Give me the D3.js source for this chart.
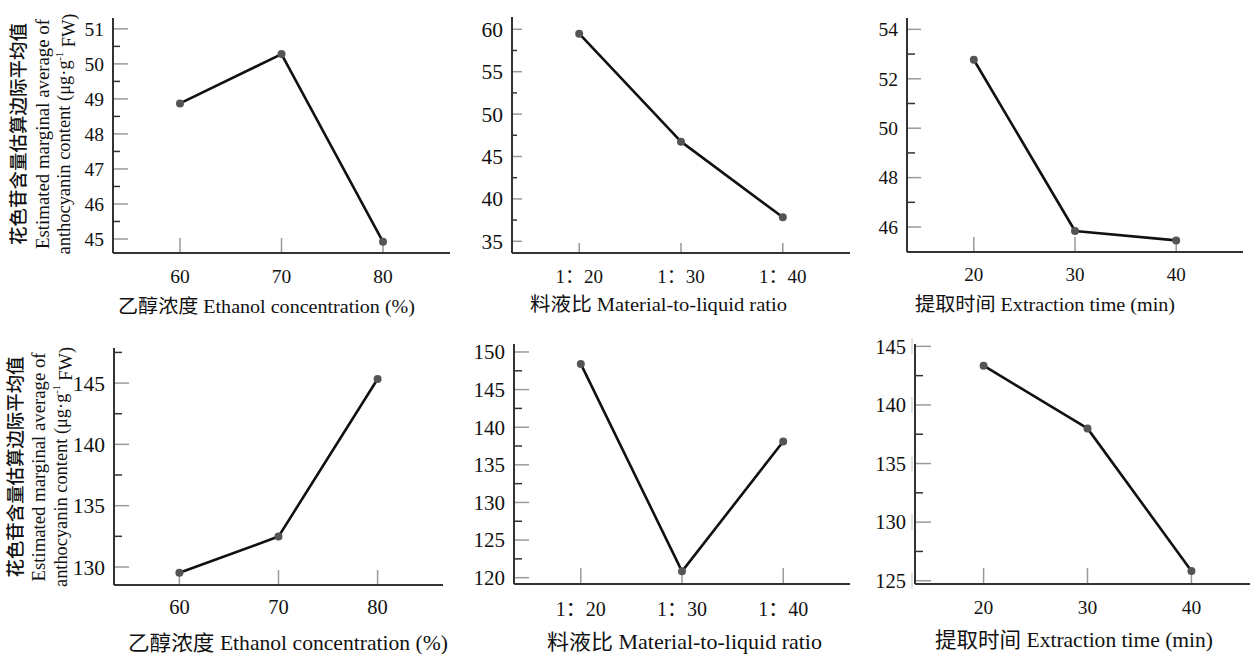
<!DOCTYPE html>
<html>
<head>
<meta charset="utf-8">
<script src="https://cdn.jsdelivr.net/npm/d3@7"></script>
<style>
  html, body { margin: 0; padding: 0; background: #fff; }
  svg { display: block; }
  text { font-family: "Liberation Serif", "Noto Sans CJK SC", serif; fill: #111; }
</style>
</head>
<body>
<svg id="chart" width="1250" height="654"></svg>
<script>
// Factor levels
const ethanolLevels = ["60", "70", "80"];
const ratioLevels = ["1：20", "1：30", "1：40"];
const timeLevels = ["20", "30", "40"];

// Estimated marginal means, first response (upper row)
const ethanolUpper = [48.87, 50.28, 44.92];
const ratioUpper = [59.48, 46.75, 37.83];
const timeUpper = [52.77, 45.84, 45.46];

// Estimated marginal means, second response (lower row)
const ethanolLower = [129.53, 132.48, 145.33];
const ratioLower = [148.41, 120.84, 138.10];
const timeLower = [143.35, 138.00, 125.83];

// Y tick values per panel
const ticksEthUp = [45, 46, 47, 48, 49, 50, 51];
const ticksRatUp = [35, 40, 45, 50, 55, 60];
const ticksTimUp = [46, 48, 50, 52, 54];
const ticksEthLo = [130, 135, 140, 145];
const ticksRatLo = [120, 125, 130, 135, 140, 145, 150];
const ticksTimLo = [125, 130, 135, 140, 145];

// Axis titles
const xTitleEthanol = "乙醇浓度 Ethanol concentration (%)";
const xTitleRatio = "料液比 Material-to-liquid ratio";
const xTitleTime = "提取时间 Extraction time (min)";
const yTitleZh = "花色苷含量估算边际平均值";
const yTitleEn1 = "Estimated marginal average of";
const yTitleEn2a = "anthocyanin content (μg·g";
const yTitleEn2sup = "-1";
const yTitleEn2b = " FW)";

const svg = d3.select("#chart");

const panels = [
  { levels: ethanolLevels, values: ethanolUpper, ticks: ticksEthUp, domain: [44.6, 51.31],
    x0: 113, x1: 450, yTop: 18, yBot: 253, tickLen: 15, minorLen: 7, xTickLen: 15,
    fs: 19.5, xfs: 19.5, xLabDy: 23, title: xTitleEthanol, tx: 118, tw: 297, tyDy: 53, tfs: 19.5 },
  { levels: ratioLevels, values: ratioUpper, ticks: ticksRatUp, domain: [33.62, 61.45],
    x0: 512, x1: 850, yTop: 17, yBot: 253, tickLen: 10, minorLen: 5, xTickLen: 10,
    fs: 21.5, xfs: 19, xLabDy: 23, title: xTitleRatio, tx: 530, tw: 257, tyDy: 51, tfs: 19.5 },
  { levels: timeLevels, values: timeUpper, ticks: ticksTimUp, domain: [44.99, 54.46],
    x0: 907, x1: 1243, yTop: 18, yBot: 252, tickLen: 14, minorLen: 8, xTickLen: 15,
    fs: 19.5, xfs: 19, xLabDy: 22, title: xTitleTime, tx: 915, tw: 260, tyDy: 52, tfs: 19.5 },
  { levels: ethanolLevels, values: ethanolLower, ticks: ticksEthLo, domain: [128.53, 147.86],
    x0: 114, x1: 443, yTop: 348, yBot: 585, tickLen: 15, minorLen: 8, xTickLen: 15,
    fs: 21.5, xfs: 20.5, xLabDy: 22, title: xTitleEthanol, tx: 128, tw: 320, tyDy: 58, tfs: 21 },
  { levels: ratioLevels, values: ratioLower, ticks: ticksRatLo, domain: [119.16, 151.06],
    x0: 514, x1: 850, yTop: 344, yBot: 584, tickLen: 15, minorLen: 8, xTickLen: 16,
    fs: 21, xfs: 20, xLabDy: 25, title: xTitleRatio, tx: 547, tw: 275, tyDy: 58, tfs: 21 },
  { levels: timeLevels, values: timeLower, ticks: ticksTimLo, domain: [124.72, 145.2],
    x0: 915, x1: 1260, yTop: 344, yBot: 584, tickLen: 16, minorLen: 8, xTickLen: 16,
    fs: 20.5, xfs: 19.5, xLabDy: 23, title: xTitleTime, tx: 935, tw: 278, tyDy: 56, tfs: 21, sideMarks: true }
];

panels.forEach(p => {
  const g = svg.append("g");
  const x = d3.scalePoint().domain(p.levels).range([p.x0, p.x1]).padding(0.66);
  const y = d3.scaleLinear().domain(p.domain).range([p.yBot, p.yTop]);
  const step = p.ticks[1] - p.ticks[0];
  const minors = [];
  for (let v = p.ticks[0] - step / 2; v <= p.domain[1]; v += step) {
    if (v > p.domain[0]) minors.push(v);
  }

  // Major y ticks: light grey, pointing into the plot
  g.selectAll(".ymaj").data(p.ticks).join("line")
    .attr("x1", p.x0).attr("x2", p.x0 + p.tickLen)
    .attr("y1", d => y(d)).attr("y2", d => y(d))
    .attr("stroke", "#9a9a9a").attr("stroke-width", 1.5);

  // Minor y ticks: dark, shorter
  g.selectAll(".ymin").data(minors).join("line")
    .attr("x1", p.x0).attr("x2", p.x0 + p.minorLen)
    .attr("y1", d => y(d)).attr("y2", d => y(d))
    .attr("stroke", "#333").attr("stroke-width", 1.5);

  // Y tick labels
  g.selectAll(".ylab").data(p.ticks).join("text")
    .attr("x", p.x0 - 9).attr("y", d => y(d)).attr("dy", "0.35em")
    .attr("text-anchor", "end").style("font-size", p.fs + "px")
    .text(d => d);

  if (p.sideMarks) {
    g.selectAll(".side").data(p.ticks).join("line")
      .attr("x1", p.x0 - 3).attr("x2", p.x0 - 3)
      .attr("y1", d => y(d) - 8).attr("y2", d => y(d) + 8)
      .attr("stroke", "#c8c8c8").attr("stroke-width", 1);
  }

  // X ticks: grey, rising from the axis
  g.selectAll(".xt").data(p.levels).join("line")
    .attr("x1", d => x(d)).attr("x2", d => x(d))
    .attr("y1", p.yBot).attr("y2", p.yBot - p.xTickLen)
    .attr("stroke", "#9a9a9a").attr("stroke-width", 1.5);

  g.selectAll(".xlab").data(p.levels).join("text")
    .attr("x", d => x(d)).attr("y", p.yBot + p.xLabDy).attr("dy", "0.35em")
    .attr("text-anchor", "middle").style("font-size", p.xfs + "px")
    .text(d => d);

  // Axis lines
  g.append("line").attr("x1", p.x0).attr("x2", p.x0).attr("y1", p.yTop).attr("y2", p.yBot)
    .attr("stroke", "#333").attr("stroke-width", 2);
  g.append("line").attr("x1", p.x0).attr("x2", p.x1).attr("y1", p.yBot).attr("y2", p.yBot)
    .attr("stroke", "#333").attr("stroke-width", 2);

  // Mean line and markers
  const pts = p.levels.map((c, i) => [x(c), y(p.values[i])]);
  g.append("path").attr("d", d3.line()(pts))
    .attr("fill", "none").attr("stroke", "#111").attr("stroke-width", 2.6)
    .attr("stroke-linejoin", "round");
  g.selectAll(".pt").data(pts).join("circle")
    .attr("cx", d => d[0]).attr("cy", d => d[1]).attr("r", 4)
    .attr("fill", "#555");

  // X axis title
  g.append("text").attr("x", p.tx).attr("y", p.yBot + p.tyDy).attr("dy", "0.35em")
    .attr("text-anchor", "start").style("font-size", p.tfs + "px")
    .attr("textLength", p.tw).attr("lengthAdjust", "spacingAndGlyphs")
    .text(p.title);
});

// Y axis titles (left column)
function yTitle(cy, xs, lens) {
  const g = svg.append("g");
  g.append("text").attr("transform", `translate(${xs[0]},${cy}) rotate(-90)`)
    .attr("dy", "0.35em").attr("text-anchor", "middle")
    .style("font-family", "'Noto Sans CJK SC', sans-serif").style("font-size", "18.5px")
    .style("font-weight", 500)
    .attr("textLength", lens[0]).attr("lengthAdjust", "spacingAndGlyphs")
    .text(yTitleZh);
  g.append("text").attr("transform", `translate(${xs[1]},${cy}) rotate(-90)`)
    .attr("dy", "0.35em").attr("text-anchor", "middle").style("font-size", "19px")
    .attr("textLength", lens[1]).attr("lengthAdjust", "spacingAndGlyphs")
    .text(yTitleEn1);
  const t = g.append("text").attr("transform", `translate(${xs[2]},${cy}) rotate(-90)`)
    .attr("dy", "0.35em").attr("text-anchor", "middle").style("font-size", "19px")
    .attr("textLength", lens[2]).attr("lengthAdjust", "spacingAndGlyphs");
  t.append("tspan").text(yTitleEn2a);
  t.append("tspan").attr("dy", "-0.6em").style("font-size", "10.5px").text(yTitleEn2sup);
  t.append("tspan").attr("dy", "0.6em").text(yTitleEn2b);
}
yTitle(134, [19, 42, 63], [222, 230, 241]);
yTitle(467, [16, 38, 60], [221, 229, 240]);
</script>
</body>
</html>
